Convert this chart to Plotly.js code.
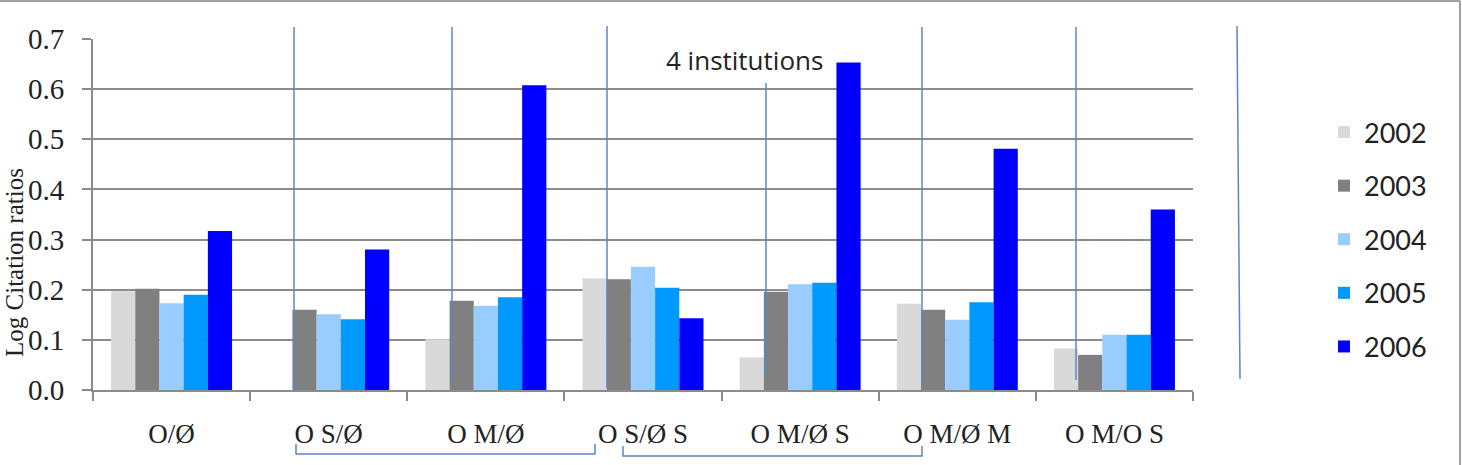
<!DOCTYPE html>
<html>
<head>
<meta charset="utf-8">
<script src="https://cdn.plot.ly/plotly-3.0.1.min.js"></script>
<style>
  html, body { margin: 0; padding: 0; background: #fff; }
  #chart { width: 1462px; height: 465px; }
</style>
</head>
<body>
<div id="chart"></div>
<script>
// ---- data ----
const categories = ["O/Ø", "O S/Ø", "O M/Ø", "O S/Ø S", "O M/Ø S", "O M/Ø M", "O M/O S"];
const years = ["2002", "2003", "2004", "2005", "2006"];
const v2002 = [0.197, 0, 0.101, 0.223, 0.065, 0.172, 0.083];
const v2003 = [0.202, 0.160, 0.178, 0.221, 0.196, 0.160, 0.070];
const v2004 = [0.173, 0.151, 0.168, 0.246, 0.211, 0.140, 0.110];
const v2005 = [0.190, 0.141, 0.185, 0.204, 0.214, 0.175, 0.110];
const v2006 = [0.317, 0.280, 0.608, 0.143, 0.653, 0.481, 0.360];
const seriesValues = [v2002, v2003, v2004, v2005, v2006];
const yTickVals = [0, 0.1, 0.2, 0.3, 0.4, 0.5, 0.6, 0.7];
const yTitle = "Log Citation ratios";
const noteText = "4 institutions";

// ---- style ----
const colors = ["#d9d9d9", "#808080", "#99ccff", "#0099ff", "#0000ff"];
const W = 1462, H = 465;
const M = { l: 93, r: 269, t: 39, b: 75 };
const PW = W - M.l - M.r, PH = H - M.t - M.b;
const px = x => (x - M.l) / PW;
const py = y => (H - M.b - y) / PH;
const serif = "'Liberation Serif', 'DejaVu Serif', serif";

const traces = years.map((yr, i) => ({
  type: "bar",
  name: yr,
  x: categories,
  y: seriesValues[i],
  marker: { color: colors[i], line: { width: 0 } },
  legendgroup: "g" + i,
  hoverinfo: "x+y+name"
}));

const lineColor = "#5b86c2";
const vlines = [
  [294, 27, 294, 390], [452, 27, 452, 380], [607, 26, 607, 388],
  [766, 83, 766, 377], [922, 27, 922, 380], [1076, 27, 1076, 380],
  [1237, 26, 1240, 379]
];
const shapes = vlines.map(l => ({
  type: "line", xref: "paper", yref: "paper",
  x0: px(l[0]), y0: py(l[1]), x1: px(l[2]), y1: py(l[3]),
  line: { color: lineColor, width: 1.5 }
}));
// brackets under labels
const brackets = [[296, 595, 454, 444], [623, 922, 456, 446]];
brackets.forEach(b => {
  shapes.push({
    type: "path", xref: "paper", yref: "paper",
    path: "M" + px(b[0]) + "," + py(b[3]) + " L" + px(b[0]) + "," + py(b[2]) +
          " L" + px(b[1]) + "," + py(b[2]) + " L" + px(b[1]) + "," + py(b[3]),
    line: { color: lineColor, width: 1.5 }
  });
});
// frame (top and right edge)
shapes.push({ type: "line", xref: "paper", yref: "paper", x0: px(0), y0: py(1), x1: px(1460), y1: py(1), line: { color: "#a0a0a0", width: 2 } });
shapes.push({ type: "line", xref: "paper", yref: "paper", x0: px(1460), y0: py(1), x1: px(1460), y1: py(465), line: { color: "#a0a0a0", width: 2 } });

const layout = {
  width: W, height: H,
  margin: M,
  paper_bgcolor: "#ffffff",
  plot_bgcolor: "#ffffff",
  barmode: "group",
  bargap: 0.23,
  bargroupgap: 0,
  showlegend: true,
  legend: {
    x: px(1324), y: py(108), xanchor: "left", yanchor: "top",
    font: { family: "Lato, 'Open Sans', sans-serif", size: 27, color: "#222" },
    tracegroupgap: 15.5,
    bgcolor: "rgba(0,0,0,0)"
  },
  xaxis: {
    type: "category",
    categoryorder: "array",
    categoryarray: categories,
    showline: true, linecolor: "#8c8c8c", linewidth: 2,
    ticks: "outside", tickson: "boundaries", ticklen: 9, tickcolor: "#8c8c8c", tickwidth: 2,
    ticklabelstandoff: 19,
    tickfont: { family: serif, size: 27, color: "#222" },
    showgrid: false,
    fixedrange: true
  },
  yaxis: {
    range: [0, 0.7],
    tickvals: yTickVals,
    tickformat: ".1f",
    showline: true, linecolor: "#8c8c8c", linewidth: 2,
    ticks: "outside", ticklen: 9, tickcolor: "#8c8c8c", tickwidth: 2,
    ticklabelstandoff: 12,
    showgrid: true, gridcolor: "#8c8c8c", gridwidth: 2,
    zeroline: false,
    tickfont: { family: serif, size: 29, color: "#222" },
    fixedrange: true
  },
  shapes: shapes,
  annotations: [
    {
      text: yTitle, xref: "paper", yref: "paper",
      x: px(14), y: py(263), xanchor: "center", yanchor: "middle",
      textangle: -90, showarrow: false,
      font: { family: serif, size: 25, color: "#222" }
    },
    {
      text: noteText, xref: "paper", yref: "paper",
      x: px(744), y: py(60), xanchor: "center", yanchor: "middle",
      showarrow: false,
      font: { family: "'Open Sans', sans-serif", size: 26, color: "#222" }
    }
  ]
};

Plotly.newPlot("chart", traces, layout, { displayModeBar: false, responsive: false, staticPlot: true });
</script>
</body>
</html>
